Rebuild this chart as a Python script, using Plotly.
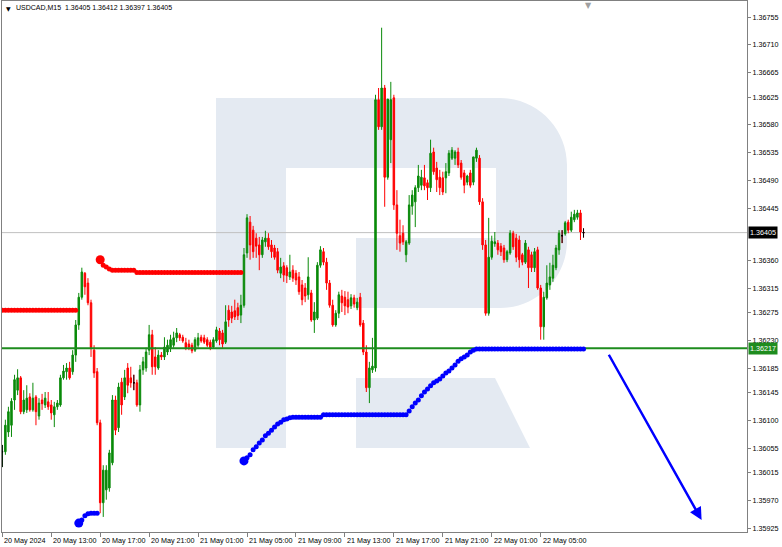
import plotly.graph_objects as go

# ---------------- data ----------------
bars = list(range(191))

open_ = [
 1.36049, 1.36049, 1.36081, 1.36092, 1.36133, 1.36149, 1.36169, 1.36114, 1.36117, 1.36138,
 1.36117, 1.36138, 1.36107, 1.36133, 1.36125, 1.36130, 1.36125, 1.36109, 1.36122, 1.36125,
 1.36169, 1.36179, 1.36185, 1.36179, 1.36206, 1.36255, 1.36300, 1.36339, 1.36323, 1.36291,
 1.36214, 1.36179, 1.36096, 1.35966, 1.35987, 1.35990, 1.36031, 1.36133, 1.36088, 1.36162,
 1.36138, 1.36185, 1.36169, 1.36161, 1.36161, 1.36125, 1.36182, 1.36185, 1.36214, 1.36239,
 1.36203, 1.36185, 1.36206, 1.36203, 1.36211, 1.36218, 1.36222, 1.36234, 1.36239, 1.36235,
 1.36226, 1.36224, 1.36222, 1.36214, 1.36222, 1.36235, 1.36234, 1.36231, 1.36227, 1.36219,
 1.36229, 1.36245, 1.36242, 1.36227, 1.36279, 1.36276, 1.36278, 1.36283, 1.36271, 1.36287,
 1.36372, 1.36422, 1.36409, 1.36396, 1.36385, 1.36369, 1.36390, 1.36396, 1.36385, 1.36380,
 1.36374, 1.36339, 1.36351, 1.36348, 1.36333, 1.36344, 1.36339, 1.36333, 1.36320, 1.36315,
 1.36304, 1.36307, 1.36263, 1.36266, 1.36352, 1.36374, 1.36357, 1.36323, 1.36287, 1.36255,
 1.36274, 1.36302, 1.36300, 1.36296, 1.36286, 1.36299, 1.36283, 1.36300, 1.36258, 1.36211,
 1.36153, 1.36182, 1.36185, 1.36621, 1.36577, 1.36640, 1.36495, 1.36556, 1.36624, 1.36450,
 1.36400, 1.36404, 1.36369, 1.36388, 1.36448, 1.36455, 1.36478, 1.36482, 1.36494, 1.36486,
 1.36478, 1.36536, 1.36510, 1.36495, 1.36494, 1.36494, 1.36502, 1.36526, 1.36526, 1.36536,
 1.36518, 1.36502, 1.36487, 1.36502, 1.36487, 1.36526, 1.36526, 1.36455, 1.36385, 1.36274,
 1.36365, 1.36387, 1.36388, 1.36383, 1.36380, 1.36361, 1.36372, 1.36404, 1.36396, 1.36393,
 1.36369, 1.36357, 1.36377, 1.36369, 1.36348, 1.36377, 1.36315, 1.36252, 1.36299, 1.36320,
 1.36331, 1.36348, 1.36377, 1.36400, 1.36403, 1.36422, 1.36409, 1.36426, 1.36430, 1.36437,
 1.36405,
]

high_ = [
 1.36060, 1.36101, 1.36122, 1.36136, 1.36174, 1.36183, 1.36172, 1.36149, 1.36157, 1.36144,
 1.36161, 1.36141, 1.36136, 1.36143, 1.36146, 1.36146, 1.36133, 1.36130, 1.36133, 1.36174,
 1.36190, 1.36193, 1.36195, 1.36214, 1.36263, 1.36307, 1.36348, 1.36341, 1.36331, 1.36296,
 1.36222, 1.36185, 1.36101, 1.36027, 1.36027, 1.36052, 1.36141, 1.36140, 1.36161, 1.36169,
 1.36182, 1.36193, 1.36187, 1.36174, 1.36166, 1.36190, 1.36203, 1.36218, 1.36255, 1.36247,
 1.36219, 1.36214, 1.36211, 1.36235, 1.36231, 1.36239, 1.36244, 1.36250, 1.36242, 1.36239,
 1.36234, 1.36231, 1.36226, 1.36235, 1.36242, 1.36239, 1.36239, 1.36235, 1.36231, 1.36235,
 1.36252, 1.36250, 1.36247, 1.36287, 1.36287, 1.36286, 1.36296, 1.36291, 1.36304, 1.36380,
 1.36435, 1.36432, 1.36416, 1.36404, 1.36398, 1.36398, 1.36408, 1.36404, 1.36393, 1.36385,
 1.36380, 1.36364, 1.36357, 1.36352, 1.36369, 1.36352, 1.36344, 1.36341, 1.36328, 1.36323,
 1.36365, 1.36312, 1.36292, 1.36357, 1.36383, 1.36380, 1.36364, 1.36328, 1.36296, 1.36279,
 1.36309, 1.36312, 1.36310, 1.36309, 1.36305, 1.36304, 1.36299, 1.36307, 1.36263, 1.36222,
 1.36195, 1.36234, 1.36629, 1.36640, 1.36738, 1.36645, 1.36504, 1.36650, 1.36629, 1.36474,
 1.36426, 1.36417, 1.36393, 1.36466, 1.36474, 1.36482, 1.36515, 1.36507, 1.36515, 1.36491,
 1.36556, 1.36543, 1.36520, 1.36507, 1.36504, 1.36518, 1.36539, 1.36544, 1.36539, 1.36543,
 1.36523, 1.36507, 1.36499, 1.36507, 1.36515, 1.36543, 1.36531, 1.36461, 1.36393, 1.36429,
 1.36400, 1.36406, 1.36393, 1.36388, 1.36385, 1.36377, 1.36409, 1.36408, 1.36403, 1.36400,
 1.36372, 1.36393, 1.36382, 1.36374, 1.36380, 1.36382, 1.36320, 1.36309, 1.36352, 1.36356,
 1.36369, 1.36385, 1.36409, 1.36409, 1.36424, 1.36426, 1.36439, 1.36442, 1.36442, 1.36442,
 1.36412,
]

low_ = [
 1.36024, 1.36044, 1.36073, 1.36073, 1.36117, 1.36141, 1.36110, 1.36110, 1.36112, 1.36114,
 1.36114, 1.36092, 1.36101, 1.36117, 1.36120, 1.36117, 1.36101, 1.36089, 1.36117, 1.36122,
 1.36166, 1.36166, 1.36166, 1.36174, 1.36195, 1.36247, 1.36296, 1.36304, 1.36287, 1.36203,
 1.36169, 1.36092, 1.35949, 1.35943, 1.35971, 1.35984, 1.36027, 1.36076, 1.36081, 1.36109,
 1.36133, 1.36144, 1.36153, 1.36149, 1.36122, 1.36114, 1.36174, 1.36179, 1.36206, 1.36174,
 1.36174, 1.36182, 1.36198, 1.36198, 1.36206, 1.36211, 1.36218, 1.36227, 1.36229, 1.36226,
 1.36214, 1.36214, 1.36209, 1.36211, 1.36218, 1.36226, 1.36224, 1.36219, 1.36214, 1.36216,
 1.36226, 1.36222, 1.36218, 1.36224, 1.36252, 1.36258, 1.36263, 1.36263, 1.36258, 1.36283,
 1.36364, 1.36361, 1.36364, 1.36364, 1.36344, 1.36364, 1.36382, 1.36377, 1.36364, 1.36361,
 1.36339, 1.36331, 1.36325, 1.36323, 1.36328, 1.36325, 1.36320, 1.36304, 1.36287, 1.36292,
 1.36296, 1.36260, 1.36242, 1.36263, 1.36348, 1.36352, 1.36312, 1.36283, 1.36252, 1.36252,
 1.36266, 1.36276, 1.36271, 1.36274, 1.36281, 1.36283, 1.36279, 1.36252, 1.36206, 1.36146,
 1.36128, 1.36177, 1.36179, 1.36572, 1.36572, 1.36447, 1.36491, 1.36518, 1.36442, 1.36377,
 1.36374, 1.36385, 1.36357, 1.36385, 1.36434, 1.36414, 1.36471, 1.36474, 1.36474, 1.36458,
 1.36471, 1.36499, 1.36471, 1.36466, 1.36466, 1.36469, 1.36497, 1.36523, 1.36515, 1.36510,
 1.36491, 1.36469, 1.36482, 1.36478, 1.36482, 1.36520, 1.36450, 1.36377, 1.36270, 1.36270,
 1.36361, 1.36382, 1.36369, 1.36367, 1.36356, 1.36357, 1.36369, 1.36377, 1.36357, 1.36348,
 1.36352, 1.36354, 1.36315, 1.36341, 1.36341, 1.36312, 1.36231, 1.36231, 1.36296, 1.36312,
 1.36325, 1.36344, 1.36369, 1.36388, 1.36400, 1.36404, 1.36406, 1.36422, 1.36426, 1.36393,
 1.36397,
]

close_ = [
 1.36049, 1.36092, 1.36114, 1.36131, 1.36166, 1.36169, 1.36114, 1.36133, 1.36136, 1.36117,
 1.36136, 1.36114, 1.36128, 1.36127, 1.36136, 1.36122, 1.36112, 1.36122, 1.36128, 1.36169,
 1.36180, 1.36185, 1.36169, 1.36206, 1.36255, 1.36300, 1.36341, 1.36317, 1.36291, 1.36218,
 1.36177, 1.36096, 1.35966, 1.36019, 1.36019, 1.36047, 1.36133, 1.36084, 1.36154, 1.36125,
 1.36169, 1.36157, 1.36161, 1.36161, 1.36125, 1.36182, 1.36195, 1.36211, 1.36239, 1.36187,
 1.36187, 1.36206, 1.36203, 1.36219, 1.36222, 1.36231, 1.36234, 1.36242, 1.36234, 1.36229,
 1.36218, 1.36219, 1.36213, 1.36231, 1.36234, 1.36229, 1.36227, 1.36222, 1.36218, 1.36231,
 1.36247, 1.36231, 1.36224, 1.36260, 1.36263, 1.36266, 1.36268, 1.36270, 1.36287, 1.36369,
 1.36429, 1.36385, 1.36374, 1.36383, 1.36369, 1.36393, 1.36396, 1.36382, 1.36374, 1.36365,
 1.36344, 1.36349, 1.36336, 1.36335, 1.36341, 1.36331, 1.36328, 1.36309, 1.36296, 1.36302,
 1.36333, 1.36263, 1.36276, 1.36352, 1.36377, 1.36357, 1.36323, 1.36287, 1.36255, 1.36274,
 1.36304, 1.36291, 1.36286, 1.36284, 1.36299, 1.36289, 1.36292, 1.36255, 1.36211, 1.36153,
 1.36185, 1.36188, 1.36621, 1.36577, 1.36640, 1.36495, 1.36622, 1.36621, 1.36450, 1.36404,
 1.36388, 1.36390, 1.36390, 1.36450, 1.36466, 1.36478, 1.36497, 1.36495, 1.36481, 1.36478,
 1.36534, 1.36504, 1.36491, 1.36478, 1.36471, 1.36504, 1.36534, 1.36539, 1.36536, 1.36515,
 1.36495, 1.36482, 1.36497, 1.36482, 1.36528, 1.36539, 1.36455, 1.36385, 1.36274, 1.36365,
 1.36391, 1.36390, 1.36377, 1.36374, 1.36361, 1.36374, 1.36404, 1.36382, 1.36365, 1.36361,
 1.36357, 1.36388, 1.36348, 1.36348, 1.36374, 1.36315, 1.36252, 1.36300, 1.36323, 1.36333,
 1.36352, 1.36380, 1.36404, 1.36400, 1.36421, 1.36409, 1.36430, 1.36435, 1.36437, 1.36406,
 1.36405,
]

# trailing-stop style indicator dots
red_a_bars = list(range(0, 25))
red_a_vals = [
 1.36279, 1.36279, 1.36279, 1.36279, 1.36279, 1.36279, 1.36279, 1.36279, 1.36279, 1.36279,
 1.36279, 1.36279, 1.36279, 1.36279, 1.36279, 1.36279, 1.36279, 1.36279, 1.36279, 1.36279,
 1.36279, 1.36279, 1.36279, 1.36279, 1.36279,
]
red_b_bars = list(range(32, 79))
red_b_vals = [
 1.36361, 1.36352, 1.36349, 1.36346, 1.36344, 1.36344, 1.36344, 1.36344, 1.36344, 1.36344,
 1.36344, 1.36344, 1.36340, 1.36340, 1.36340, 1.36340, 1.36340, 1.36340, 1.36340, 1.36340,
 1.36340, 1.36340, 1.36340, 1.36340, 1.36340, 1.36340, 1.36340, 1.36340, 1.36340, 1.36340,
 1.36340, 1.36340, 1.36340, 1.36340, 1.36340, 1.36340, 1.36340, 1.36340, 1.36340, 1.36340,
 1.36340, 1.36340, 1.36340, 1.36340, 1.36340, 1.36340, 1.36340,
]
blue_a_bars = list(range(25, 32))
blue_a_vals = [1.35933, 1.35938, 1.35945, 1.35948, 1.35949, 1.35949, 1.35949]
blue_b_bars = list(range(79, 191))
blue_b_vals = [
 1.36034, 1.36039, 1.36044, 1.36052, 1.36057, 1.36063, 1.36068, 1.36075, 1.36079, 1.36084,
 1.36089, 1.36094, 1.36097, 1.36101, 1.36102, 1.36104,
 1.36105, 1.36105, 1.36105, 1.36105, 1.36105, 1.36105, 1.36105, 1.36105, 1.36105, 1.36105,
 1.36109, 1.36109, 1.36109, 1.36109, 1.36109, 1.36109, 1.36109, 1.36109, 1.36109, 1.36109,
 1.36109, 1.36109, 1.36109, 1.36109, 1.36109, 1.36109, 1.36109, 1.36109, 1.36109, 1.36109,
 1.36109, 1.36109, 1.36109, 1.36109, 1.36109, 1.36109, 1.36109, 1.36109,
 1.36115, 1.36122, 1.36128, 1.36133, 1.36140, 1.36146, 1.36151, 1.36156, 1.36161, 1.36164,
 1.36167, 1.36172, 1.36177, 1.36180, 1.36185, 1.36190, 1.36196, 1.36200, 1.36203, 1.36206,
 1.36211, 1.36214,
 1.36216, 1.36216, 1.36216, 1.36216, 1.36216, 1.36216, 1.36216, 1.36216, 1.36216, 1.36216,
 1.36216, 1.36216, 1.36216, 1.36216, 1.36216, 1.36216, 1.36216, 1.36216, 1.36216, 1.36216,
 1.36216, 1.36216, 1.36216, 1.36216, 1.36216, 1.36216, 1.36216, 1.36216, 1.36216, 1.36216,
 1.36216, 1.36216, 1.36216, 1.36216, 1.36216, 1.36216,
]

x_tick_bars = [0, 16, 32, 48, 64, 80, 96, 112, 128, 144, 160, 176]
x_tick_labels = ["20 May 2024", "20 May 13:00", "20 May 17:00", "20 May 21:00",
                 "21 May 01:00", "21 May 05:00", "21 May 09:00", "21 May 13:00",
                 "21 May 17:00", "21 May 21:00", "22 May 01:00", "22 May 05:00"]
y_tick_vals = [1.36755, 1.36710, 1.36665, 1.36625, 1.36580, 1.36535, 1.36490, 1.36445,
               1.36360, 1.36315, 1.36275, 1.36230, 1.36185, 1.36145, 1.36100,
               1.36055, 1.36015, 1.35970, 1.35925]
current_price = 1.36405
level_price = 1.36217
title_text = "USDCAD,M15  1.36405 1.36412 1.36397 1.36405"
arrow_from = (198.0, 1.36209)
arrow_to = (228.6, 1.35938)

# ---------------- style / layout ----------------
FONT = "Liberation Sans, Arial, sans-serif"
FS = 7.2
GREEN = "#0a8a0a"
RED = "#ff0000"
BLUE = "#0000ff"
LOGO = "#e4eaf2"

W, H = 782, 547
PL, PR, PT, PB = 2, 747, 1, 532   # plot area in pixels


def pp(x, y):
    return f"{(x - PL) / (PR - PL):.5f},{(PB - y) / (PB - PT):.5f}"


logo_main = ("M" + pp(216, 98) + " L" + pp(500, 98) +
             " C" + pp(537, 98) + " " + pp(567, 128) + " " + pp(567, 165) +
             " L" + pp(567, 241) +
             " C" + pp(567, 278) + " " + pp(537, 308) + " " + pp(500, 308) +
             " L" + pp(356, 308) + " L" + pp(356, 238) + " L" + pp(496, 238) +
             " L" + pp(496, 168) + " L" + pp(286, 168) + " L" + pp(286, 448) +
             " L" + pp(216, 448) + " Z")
logo_leg = ("M" + pp(356, 378) + " L" + pp(495, 378) + " L" + pp(530, 448) +
            " L" + pp(356, 448) + " Z")

fig = go.Figure()

fig.add_trace(go.Candlestick(
    x=bars, open=open_, high=high_, low=low_, close=close_,
    increasing=dict(line=dict(color=GREEN, width=1), fillcolor=GREEN),
    decreasing=dict(line=dict(color=RED, width=1), fillcolor=RED),
    hoverinfo="skip", showlegend=False,
))

doji = [i for i in bars if open_[i] == close_[i]]
fig.add_trace(go.Candlestick(
    x=[bars[i] for i in doji], open=[open_[i] for i in doji],
    high=[high_[i] for i in doji], low=[low_[i] for i in doji],
    close=[close_[i] for i in doji],
    increasing=dict(line=dict(color="black", width=1), fillcolor="black"),
    decreasing=dict(line=dict(color="black", width=1), fillcolor="black"),
    hoverinfo="skip", showlegend=False,
))

# green level line
fig.add_trace(go.Scatter(x=[-1, 250], y=[level_price, level_price], mode="lines",
                         line=dict(color="#1e8c1e", width=2), hoverinfo="skip",
                         showlegend=False))

dot = dict(size=5)
fig.add_trace(go.Scatter(x=red_a_bars, y=red_a_vals, mode="markers",
                         marker=dict(color=RED, **dot), showlegend=False, hoverinfo="skip"))
fig.add_trace(go.Scatter(x=red_b_bars, y=red_b_vals, mode="markers",
                         marker=dict(color=RED, **dot), showlegend=False, hoverinfo="skip"))
fig.add_trace(go.Scatter(x=blue_a_bars, y=blue_a_vals, mode="markers",
                         marker=dict(color=BLUE, **dot), showlegend=False, hoverinfo="skip"))
fig.add_trace(go.Scatter(x=blue_b_bars, y=blue_b_vals, mode="markers",
                         marker=dict(color=BLUE, **dot), showlegend=False, hoverinfo="skip"))
# big start dots
fig.add_trace(go.Scatter(x=[red_b_bars[0]], y=[red_b_vals[0]], mode="markers",
                         marker=dict(color=RED, size=9), showlegend=False, hoverinfo="skip"))
fig.add_trace(go.Scatter(x=[blue_a_bars[0], blue_b_bars[0]], y=[blue_a_vals[0], blue_b_vals[0]],
                         mode="markers", marker=dict(color=BLUE, size=9),
                         showlegend=False, hoverinfo="skip"))

shapes = [
    dict(type="path", path=logo_main, xref="paper", yref="paper",
         fillcolor=LOGO, line=dict(width=0), layer="below"),
    dict(type="path", path=logo_leg, xref="paper", yref="paper",
         fillcolor=LOGO, line=dict(width=0), layer="below"),
    dict(type="line", xref="paper", x0=0, x1=1, yref="y", y0=current_price, y1=current_price,
         line=dict(color="#c0c0c0", width=1), layer="below"),
]

annotations = []
for b, lab in zip(x_tick_bars, x_tick_labels):
    annotations.append(dict(x=b, y=0, xref="x", yref="paper", text=lab, showarrow=False,
                            xanchor="left", yanchor="top", xshift=0, yshift=-2,
                            font=dict(family=FONT, size=FS, color="black")))
annotations += [
    dict(x=0, y=1, xref="paper", yref="paper", text="▼", showarrow=False,
         xanchor="left", yanchor="top", xshift=2, yshift=-2,
         font=dict(family="DejaVu Sans", size=6, color="black")),
    dict(x=0, y=1, xref="paper", yref="paper", text=title_text, showarrow=False,
         xanchor="left", yanchor="top", xshift=12, yshift=-1,
         font=dict(family=FONT, size=7, color="black")),
    dict(x=1, y=current_price, xref="paper", yref="y", text="1.36405",
         showarrow=False, xanchor="left", yanchor="middle", xshift=1,
         bgcolor="black", borderpad=1, font=dict(family=FONT, size=FS, color="white")),
    dict(x=1, y=level_price, xref="paper", yref="y", text="1.36217",
         showarrow=False, xanchor="left", yanchor="middle", xshift=1,
         bgcolor="#1e8c1e", borderpad=1, font=dict(family=FONT, size=FS, color="white")),
    dict(x=arrow_to[0], y=arrow_to[1], ax=arrow_from[0], ay=arrow_from[1],
         xref="x", yref="y", axref="x", ayref="y", text="", showarrow=True,
         arrowhead=2, arrowsize=1, arrowwidth=2.5, arrowcolor=BLUE),
    dict(x=191.5, y=1, xref="x", yref="paper", text="▼", showarrow=False,
         xanchor="center", yanchor="top", yshift=2,
         font=dict(family="DejaVu Sans", size=8, color="#a0a0a0")),
]

fig.update_layout(
    width=W, height=H,
    margin=dict(l=PL, r=W - PR, t=PT, b=H - PB, pad=0),
    paper_bgcolor="white", plot_bgcolor="white",
    showlegend=False,
    shapes=shapes, annotations=annotations,
    xaxis=dict(range=[-0.1, 243.44], rangeslider=dict(visible=False),
               showgrid=False, zeroline=False, showline=True, mirror=True,
               linecolor="#808080", linewidth=1,
               tickmode="array", tickvals=x_tick_bars, ticks="outside", ticklen=4,
               tickcolor="#808080", showticklabels=False, fixedrange=True),
    yaxis=dict(range=[1.359185, 1.367814], side="right",
               showgrid=False, zeroline=False, showline=True, mirror=True,
               linecolor="#808080", linewidth=1,
               tickmode="array", tickvals=y_tick_vals,
               ticktext=[f"{v:.5f}" for v in y_tick_vals],
               ticks="outside", ticklen=3, tickcolor="#808080",
               tickfont=dict(family=FONT, size=FS, color="black"), fixedrange=True),
)

fig.write_html("out.html", config={"displayModeBar": False},
               post_script="document.body.style.margin='0';document.body.style.overflow='hidden';")
